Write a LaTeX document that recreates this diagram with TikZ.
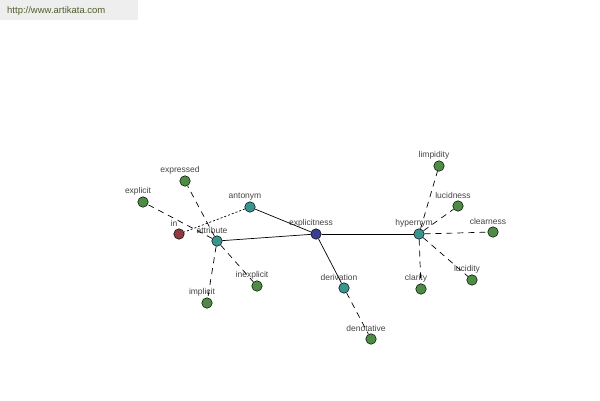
\documentclass[tikz,border=0pt]{standalone}
\usepackage{fontspec}
\setmainfont{Liberation Sans}
\definecolor{hubblue}{HTML}{3B3F8F}
\definecolor{relteal}{HTML}{3A9490}
\definecolor{wordgreen}{HTML}{4E8C46}
\definecolor{prefred}{HTML}{8E3A40}
\definecolor{labgray}{HTML}{444444}
\definecolor{sitebox}{HTML}{EEEEEE}
\definecolor{siteolive}{HTML}{4F5F2A}
\tikzset{
  dot/.style={circle, draw=black, line width=0.5pt, inner sep=0pt, minimum size=10.5pt},
  hub/.style={dot, fill=hubblue},
  rel/.style={dot, fill=relteal},
  word/.style={dot, fill=wordgreen},
  pref/.style={dot, fill=prefred},
  lbl/.style={font=\fontsize{8.5}{10}\selectfont, text=labgray, inner sep=0pt, xshift=-5pt, yshift=10.5pt},
  tie/.style={line width=0.7pt},
  dashtie/.style={line width=0.7pt, dash pattern=on 6pt off 5pt},
  dottie/.style={line width=0.7pt, dash pattern=on 2pt off 2pt}
}
\begin{document}
\begin{tikzpicture}[x=1pt, y=-1pt]
  \useasboundingbox (0,0) rectangle (600,400);
  \fill[sitebox] (0,0) rectangle (138,20);
  \node[anchor=west, text=siteolive, font=\fontsize{9.5}{11}\selectfont, inner sep=0pt] (site) at (7,11) {http://www.artikata.com};

  \node[hub, label={[lbl]center:explicitness}] (explicitness) at (316,234) {};
  \node[rel, label={[lbl]center:antonym}] (antonym) at (250,207) {};
  \node[rel, label={[lbl]center:attribute}] (attribute) at (217,241) {};
  \node[rel, label={[lbl]center:derivation}] (derivation) at (344,288) {};
  \node[rel, label={[lbl]center:hypernym}] (hypernym) at (419,234) {};
  \node[pref, label={[lbl]center:in}] (in) at (179,234) {};

  \foreach \name/\x/\y in {explicit/143/202, expressed/185/181, implicit/207/303, inexplicit/257/286,
                           denotative/371/339, limpidity/439/166, lucidness/458/206,
                           clearness/493/232, lucidity/472/280, clarity/421/289}
    \node[word, label={[lbl]center:\name}] (\name) at (\x,\y) {};

  \draw[tie] (explicitness) -- (antonym);
  \draw[tie] (explicitness) -- (attribute);
  \draw[tie] (explicitness) -- (derivation);
  \draw[tie] (explicitness) -- (hypernym);
  \draw[dottie] (antonym) -- (in);
  \foreach \w in {explicit, expressed, implicit, inexplicit}
    \draw[dashtie] (attribute) -- (\w);
  \draw[dashtie] (derivation) -- (denotative);
  \foreach \w in {limpidity, lucidness, clearness, lucidity, clarity}
    \draw[dashtie] (hypernym) -- (\w);
\end{tikzpicture}
\end{document}
